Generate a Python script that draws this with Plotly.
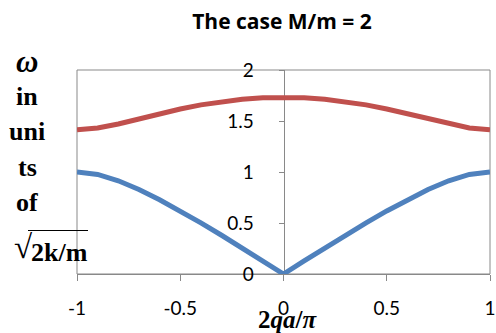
import plotly.graph_objects as go

# data
x_vals = [-1.0, -0.9, -0.8, -0.7, -0.6, -0.5, -0.4, -0.3, -0.2, -0.1, 0.0,
          0.1, 0.2, 0.3, 0.4, 0.5, 0.6, 0.7, 0.8, 0.9, 1.0]
acoustic = [1.00, 0.976, 0.914, 0.828, 0.728, 0.618, 0.501, 0.380, 0.255, 0.128, 0.0,
            0.128, 0.255, 0.380, 0.501, 0.618, 0.728, 0.828, 0.914, 0.976, 1.00]
optical = [1.414, 1.431, 1.471, 1.521, 1.572, 1.618, 1.658, 1.690, 1.713, 1.727, 1.732,
           1.727, 1.713, 1.690, 1.658, 1.618, 1.572, 1.521, 1.471, 1.431, 1.414]
x_ticks = [-1, -0.5, 0, 0.5, 1]
x_tick_text = ["-1", "-0.5", "0", "0.5", "1"]
y_ticks = [0, 0.5, 1, 1.5, 2]
y_tick_text = ["0", "0.5", "1", "1.5", "2"]
title_text = "The case M/m = 2"
x_title = "<b>2<i>qa</i>/<i>π</i></b>"
y_label_lines = ["<b><i>ω</i></b>", "<b>in</b>", "<b>uni</b>", "<b>ts</b>", "<b>of</b>"]
y_label_sizes = [31, 26, 26, 26, 26]

W, H = 496, 333
L, R, T, B = 77, 6, 70, 59
PW, PH = W - L - R, H - T - B

def px(xp):
    return (xp - L) / PW

def py(yp):
    return (H - B - yp) / PH

AX = "#898989"
fig = go.Figure()
fig.add_trace(go.Scatter(x=x_vals, y=acoustic, mode="lines", cliponaxis=False,
                         line=dict(color="#4F81BD", width=5), showlegend=False))
fig.add_trace(go.Scatter(x=x_vals, y=optical, mode="lines", cliponaxis=False,
                         line=dict(color="#C0504D", width=5), showlegend=False))

fig.update_layout(
    width=W, height=H,
    margin=dict(l=L, r=R, t=T, b=B, autoexpand=False),
    paper_bgcolor="white", plot_bgcolor="white",
    font=dict(family="Lato, Open Sans, sans-serif", size=19, color="black"),
    title=dict(text="<b>" + title_text + "</b>", x=px(282), xref="paper", xanchor="center",
               y=1 - 21.5 / H, yref="container", yanchor="middle",
               font=dict(family="Open Sans, sans-serif", size=21, color="black")),
    xaxis=dict(range=[-1, 1], tickvals=x_ticks, ticktext=x_tick_text, automargin=False,
               showgrid=False, zeroline=False, showline=True, linecolor=AX, linewidth=1,
               ticks="outside", ticklen=6, tickcolor=AX, tickwidth=1,
               ticklabelstandoff=11, layer="below traces"),
    yaxis=dict(range=[0, 2], tickvals=y_ticks, ticktext=y_tick_text, automargin=False,
               anchor="free", position=0.5, side="left",
               showgrid=False, zeroline=False, showline=True, linecolor=AX, linewidth=1,
               ticks="outside", ticklen=5, tickcolor=AX, tickwidth=1,
               ticklabelstandoff=21, layer="below traces"),
    shapes=[
        dict(type="rect", xref="paper", yref="paper", x0=0, x1=1, y0=0, y1=1,
             line=dict(color=AX, width=1), layer="below"),
        dict(type="line", xref="paper", yref="paper", x0=px(28), x1=px(88),
             y0=py(230.5), y1=py(230.5), line=dict(color="black", width=1.2)),
    ],
)

serif = "Liberation Serif, Times New Roman, serif"
centers = [61.5, 96.9, 131.9, 167.5, 202.9]
annotations = []
for txt, yc, fs in zip(y_label_lines, centers, y_label_sizes):
    annotations.append(dict(text=txt, xref="paper", yref="paper", x=px(27), y=py(yc),
                            xanchor="center", yanchor="middle", showarrow=False,
                            font=dict(family=serif, size=fs, color="black")))
annotations.append(dict(text="√", xref="paper", yref="paper", x=px(12), y=py(247),
                        xanchor="left", yanchor="middle", showarrow=False,
                        font=dict(family=serif, size=33, color="black")))
annotations.append(dict(text="<b>2k/m</b>", xref="paper", yref="paper", x=px(29), y=py(252.9),
                        xanchor="left", yanchor="middle", showarrow=False,
                        font=dict(family=serif, size=26, color="black")))
annotations.append(dict(text=x_title, xref="paper", yref="paper", x=px(287.5), y=py(319.3),
                        xanchor="center", yanchor="middle", showarrow=False,
                        font=dict(family=serif, size=25, color="black")))
fig.update_layout(annotations=annotations)

fig.write_html("out.html", config={"displayModeBar": False},
               post_script="document.body.style.margin='0';document.body.style.overflow='hidden';")
